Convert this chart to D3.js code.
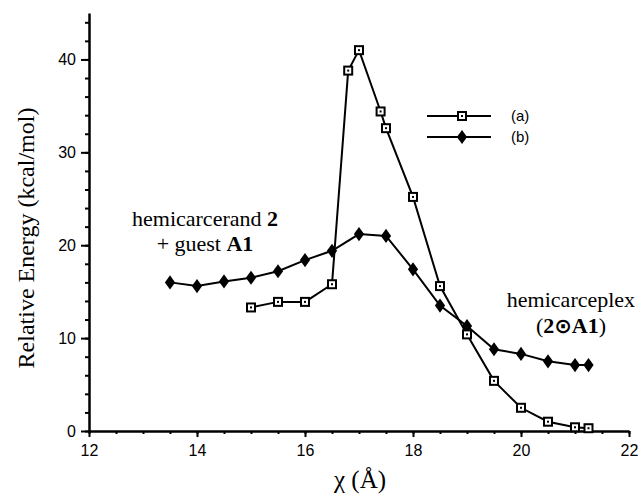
<!DOCTYPE html>
<html lang="en">
<head>
    <meta charset="UTF-8">
    <title>Relative Energy</title>
    <style>
        body { margin: 0; background: #fff; }
        .line { fill: none; stroke: #000; stroke-width: 2px; }
        .tick text { font-family: "Liberation Sans", Arial, sans-serif; font-size: 16px; }
        .serif { font-family: "Liberation Serif", "Times New Roman", serif; }
    </style>
</head>
<body>

<svg width="640" height="495"></svg>

<script src="https://d3js.org/d3.v7.min.js"></script>

<script>
    // series (a): squares
    var xA = [15, 15.5, 16, 16.5, 16.8, 17, 17.4, 17.5, 18, 18.5, 19, 19.5, 20, 20.5, 21, 21.25];
    var yA = [13.3, 13.9, 13.9, 15.8, 38.8, 41.0, 34.4, 32.6, 25.2, 15.6, 10.4, 5.4, 2.5, 1.0, 0.4, 0.3];
    // series (b): diamonds
    var xB = [13.5, 14, 14.5, 15, 15.5, 16, 16.5, 17, 17.5, 18, 18.5, 19, 19.5, 20, 20.5, 21, 21.25];
    var yB = [16.0, 15.6, 16.1, 16.5, 17.2, 18.4, 19.4, 21.2, 21.0, 17.4, 13.5, 11.3, 8.8, 8.3, 7.5, 7.1, 7.1];

    var xTicks = [12, 14, 16, 18, 20, 22];
    var yTicks = [0, 10, 20, 30, 40];
    var legendLabels = ["(a)", "(b)"];

    var svg = d3.select("svg");
    var margin = {top: 13, right: 12, bottom: 64, left: 89};
    var width = +svg.attr("width") - margin.left - margin.right;
    var height = +svg.attr("height") - margin.top - margin.bottom;
    var g = svg.append("g").attr("transform", `translate(${margin.left}, ${margin.top})`);

    var x = d3.scaleLinear().domain([12, 22]).range([0, 540]);
    var y = d3.scaleLinear().domain([0, 45]).range([height, 0]);

    // minor ticks
    g.append("g")
        .attr("transform", `translate(0, ${height})`)
        .call(d3.axisBottom(x).tickValues(d3.range(12, 22.01, 0.5)).tickSize(3).tickFormat(""))
        .call(a => a.select(".domain").remove())
        .selectAll("line").attr("stroke-width", 2);
    g.append("g")
        .call(d3.axisLeft(y).tickValues(d3.range(0, 44.1, 2)).tickSize(4).tickFormat(""))
        .call(a => a.select(".domain").remove())
        .selectAll("line").attr("stroke-width", 2);

    var xAxis = g.append("g")
        .attr("transform", `translate(0, ${height})`)
        .call(d3.axisBottom(x).tickValues(xTicks).tickSize(6).tickSizeOuter(0).tickPadding(8));
    xAxis.select(".domain").attr("stroke-width", 2.5);
    xAxis.selectAll(".tick line").attr("stroke-width", 2);

    var yAxis = g.append("g")
        .call(d3.axisLeft(y).tickValues(yTicks).tickSize(8).tickSizeOuter(0).tickPadding(5));
    yAxis.select(".domain").attr("stroke-width", 2.5);
    yAxis.selectAll(".tick line").attr("stroke-width", 2);

    var dataA = xA.map((v, i) => ({x: v, y: yA[i]}));
    var dataB = xB.map((v, i) => ({x: v, y: yB[i]}));

    var line = d3.line().x(d => x(d.x)).y(d => y(d.y));

    g.append("path").datum(dataB).attr("class", "line").attr("d", line);
    g.append("path").datum(dataA).attr("class", "line").attr("d", line);

    var diamond = d3.symbol().type(d3.symbolDiamond).size(58);

    function drawSquare(sel) {
        sel.append("rect").attr("x", -4).attr("y", -4).attr("width", 8).attr("height", 8)
            .attr("fill", "#fff").attr("stroke", "#000").attr("stroke-width", 2);
        sel.append("rect").attr("x", -1).attr("y", -1).attr("width", 2).attr("height", 2).attr("fill", "#000");
    }
    function drawDiamond(sel) {
        sel.append("path").attr("d", diamond).attr("fill", "#000")
            .attr("transform", "scale(1.25,1)");
    }

    g.selectAll(".ptB").data(dataB).enter().append("g")
        .attr("transform", d => `translate(${x(d.x)}, ${y(d.y)})`)
        .call(drawDiamond);
    g.selectAll(".ptA").data(dataA).enter().append("g")
        .attr("transform", d => `translate(${x(d.x)}, ${y(d.y)})`)
        .call(drawSquare);

    // legend
    var legend = svg.append("g");
    legendLabels.forEach(function (lab, i) {
        var ly = 116 + i * 21;
        legend.append("line").attr("x1", 427).attr("x2", 491).attr("y1", ly).attr("y2", ly)
            .attr("stroke", "#000").attr("stroke-width", 2);
        var m = legend.append("g").attr("transform", `translate(462, ${ly})`);
        if (i === 0) drawSquare(m); else drawDiamond(m);
        legend.append("text").attr("x", 511).attr("y", ly + 5)
            .style("font-family", "Liberation Sans, Arial, sans-serif").style("font-size", "15px")
            .text(lab);
    });

    // annotations
    var t1 = svg.append("text").attr("class", "serif").attr("x", 205).attr("y", 226)
        .attr("text-anchor", "middle").style("font-size", "22px");
    t1.append("tspan").text("hemicarcerand ");
    t1.append("tspan").attr("font-weight", "bold").text("2");
    var t2 = svg.append("text").attr("class", "serif").attr("x", 205).attr("y", 251)
        .attr("text-anchor", "middle").style("font-size", "22px");
    t2.append("tspan").text("+ guest ");
    t2.append("tspan").attr("font-weight", "bold").text("A1");

    svg.append("text").attr("class", "serif").attr("x", 571).attr("y", 307)
        .attr("text-anchor", "middle").style("font-size", "22px").text("hemicarceplex");
    var t4 = svg.append("text").attr("class", "serif").attr("x", 571).attr("y", 333)
        .attr("text-anchor", "middle").style("font-size", "22px");
    t4.append("tspan").text("(");
    t4.append("tspan").attr("font-weight", "bold").text("2");
    t4.append("tspan").attr("font-weight", "bold").style("font-family", "DejaVu Sans").style("font-size", "21px").text("\u2299");
    t4.append("tspan").attr("font-weight", "bold").text("A1");
    t4.append("tspan").text(")");

    // axis titles
    svg.append("text").attr("class", "serif")
        .attr("transform", "translate(34, 238) rotate(-90)")
        .attr("text-anchor", "middle").style("font-size", "24px")
        .text("Relative Energy (kcal/mol)");
    svg.append("text").attr("class", "serif").attr("x", 360).attr("y", 488)
        .attr("text-anchor", "middle").style("font-size", "25px")
        .text("\u03C7 (\u00C5)");
</script>
</body>
</html>
